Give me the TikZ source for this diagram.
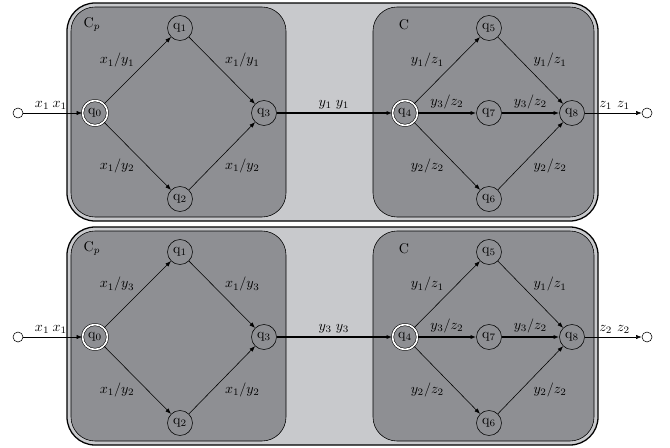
\documentclass[tikz,border=0pt]{standalone}
\usepackage{amsmath}
\usepackage{amssymb}
\usetikzlibrary{arrows.meta}
\definecolor{panelgray}{RGB}{200,201,204}
\definecolor{boxgray}{RGB}{142,143,147}

\begin{document}
\begin{tikzpicture}[x=0.025cm,y=-0.025cm,
	state/.style={circle,draw,fill=boxgray,minimum size=0.625cm,inner sep=0pt},
	start/.style={state,double=white,double distance=1.2pt},
	port/.style={circle,draw,fill=white,minimum size=0.25cm,inner sep=0pt},
	trans/.style={-{Latex[length=4pt,width=3pt]},thin},
	heavy/.style={trans,line width=1.2pt},
	lbl/.style={inner sep=2pt}]
	\useasboundingbox (0,0) rectangle (670,447);
	\foreach \dy/\a/\c in {0/1/1,224/3/2} {
	\begin{scope}[shift={(0,\dy)}]
		\draw[fill=panelgray,line width=0.9pt,rounded corners=0.7cm] (67,3) rectangle (598,221);
		\draw[fill=boxgray,rounded corners=0.6cm] (71,7) rectangle (286,217);
		\draw[fill=boxgray,rounded corners=0.6cm] (373,7) rectangle (594,217);
		\node (cp) at (92,25) {$\mathrm{C}_p$};
		\node (cc) at (404,25) {$\mathrm{C}$};
		\node[port] (in) at (18,113) {};
		\node[port] (out) at (647,113) {};
		\node[start] (q0) at (95,113) {$\mathrm{q}_0$};
		\node[state] (q1) at (180,28) {$\mathrm{q}_1$};
		\node[state] (q2) at (180,199) {$\mathrm{q}_2$};
		\node[state] (q3) at (264,113) {$\mathrm{q}_3$};
		\node[start] (q4) at (405,113) {$\mathrm{q}_4$};
		\node[state] (q5) at (489,28) {$\mathrm{q}_5$};
		\node[state] (q6) at (489,199) {$\mathrm{q}_6$};
		\node[state] (q7) at (489,113) {$\mathrm{q}_7$};
		\node[state] (q8) at (572,113) {$\mathrm{q}_8$};
		\draw[trans] (in) -- node[lbl,pos=0.32,above] {$x_1$} node[lbl,pos=0.62,above] {$x_1$} (q0);
		\draw[trans] (q0) -- node[lbl,above left] {$x_1/y_\a$} (q1);
		\draw[trans] (q1) -- node[lbl,above right] {$x_1/y_\a$} (q3);
		\draw[trans] (q0) -- node[lbl,below left] {$x_1/y_2$} (q2);
		\draw[trans] (q2) -- node[lbl,below right] {$x_1/y_2$} (q3);
		\draw[heavy] (q3) -- node[lbl,pos=0.42,above] {$y_\a$} node[lbl,pos=0.57,above] {$y_\a$} (q4);
		\draw[trans] (q4) -- node[lbl,above left] {$y_1/z_1$} (q5);
		\draw[trans] (q5) -- node[lbl,above right] {$y_1/z_1$} (q8);
		\draw[heavy] (q4) -- node[lbl,above] {$y_3/z_2$} (q7);
		\draw[heavy] (q7) -- node[lbl,above] {$y_3/z_2$} (q8);
		\draw[trans] (q4) -- node[lbl,below left] {$y_2/z_2$} (q6);
		\draw[trans] (q6) -- node[lbl,below right] {$y_2/z_2$} (q8);
		\draw[trans] (q8) -- node[lbl,pos=0.37,above] {$z_\c$} node[lbl,pos=0.68,above] {$z_\c$} (out);
	\end{scope}
	}
\end{tikzpicture}
\end{document}
